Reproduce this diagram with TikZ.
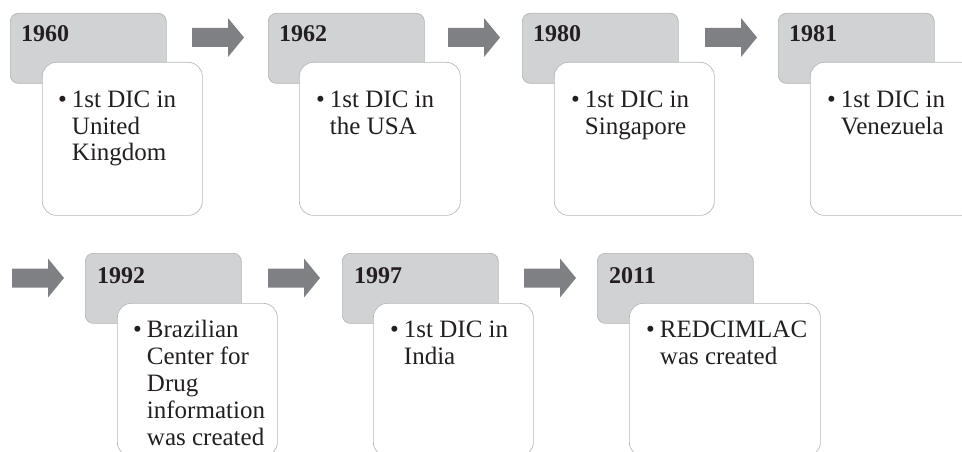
\documentclass[tikz,border=0pt]{standalone}
\usepackage{fontspec}
\setmainfont{Liberation Serif}
\definecolor{grayfill}{HTML}{D1D2D4}
\definecolor{grayedge}{HTML}{B4B5B7}
\definecolor{whiteedge}{HTML}{B8B9BB}
\definecolor{arrowfill}{HTML}{7F8083}
\definecolor{ink}{HTML}{231F20}
\tikzset{
  graybox/.style={draw=grayedge, fill=grayfill, rounded corners=8pt, line width=0.7pt,
    anchor=north west, inner sep=0pt, minimum width=156pt, minimum height=70pt},
  whitebox/.style={draw=whiteedge, fill=white, rounded corners=14pt, line width=0.7pt,
    anchor=north west, inner sep=0pt, minimum height=153pt},
  yeartext/.style={anchor=base west, inner sep=0pt, text=ink,
    font=\fontsize{24}{27}\selectfont\bfseries},
  itemtext/.style={anchor=base west, inner sep=0pt, text=ink,
    font=\fontsize{25}{27}\selectfont},
  blockarrow/.style={fill=arrowfill}
}
\newcommand{\bulletlines}[1]{\begin{tabular}[t]{@{}l@{\hspace{5pt}}l@{}}\textbullet & #1\end{tabular}}
\begin{document}
\begin{tikzpicture}[x=1pt,y=-1pt]
\useasboundingbox (0,0) rectangle (962,452);
\clip (0,0) rectangle (962,452);
% ---------- row 1 ----------
\node[graybox] (g1) at (10,13) {};
\node[yeartext] (y1) at (21,42) {1960};
\node[whitebox, minimum width=160pt] (w1) at (42,62) {};
\node[itemtext] (t1) at (58,107) {\bulletlines{1st DIC in\\ & United\\ & Kingdom}};

\node[graybox] (g2) at (268,13) {};
\node[yeartext] (y2) at (279,42) {1962};
\node[whitebox, minimum width=161pt] (w2) at (299,62) {};
\node[itemtext] (t2) at (316,107) {\bulletlines{1st DIC in\\ & the USA}};

\node[graybox] (g3) at (522,13) {};
\node[yeartext] (y3) at (533,42) {1980};
\node[whitebox, minimum width=160pt] (w3) at (554,62) {};
\node[itemtext] (t3) at (571,107) {\bulletlines{1st DIC in\\ & Singapore}};

\node[graybox] (g4) at (778,13) {};
\node[yeartext] (y4) at (789,42) {1981};
\node[whitebox, minimum width=165pt] (w4) at (810,62) {};
\node[itemtext] (t4) at (827,107) {\bulletlines{1st DIC in\\ & Venezuela}};

% ---------- row 2 ----------
\node[graybox] (g5) at (85,253) {};
\node[yeartext] (y5) at (97,283) {1992};
\node[whitebox, minimum width=160pt] (w5) at (117,303) {};
\node[itemtext] (t5) at (133,337) {\bulletlines{Brazilian\\ & Center for\\ & Drug\\ & information\\ & was created}};

\node[graybox] (g6) at (342,253) {};
\node[yeartext] (y6) at (354,283) {1997};
\node[whitebox, minimum width=160pt] (w6) at (373,303) {};
\node[itemtext] (t6) at (390,337) {\bulletlines{1st DIC in\\ & India}};

\node[graybox] (g7) at (597,253) {};
\node[yeartext] (y7) at (609,283) {2011};
\node[whitebox, minimum width=191pt] (w7) at (629,303) {};
\node[itemtext] (t7) at (646,337) {\bulletlines{REDCIMLAC\\ & was created}};

% ---------- block arrows ----------
\foreach \n/\ax/\ay in {a1/192/37.5, a2/448/37.5, a3/705/37.5, a4/12/278, a5/268/278, a6/524/278}{
  \coordinate (\n) at (\ax,\ay);
  \fill[blockarrow] (\n) ++(0,-9.5) -- ++(36,0) -- ++(0,-10) -- ++(16,19.5)
     -- ++(-16,19.5) -- ++(0,-10) -- ++(-36,0) -- cycle;
}
\end{tikzpicture}
\end{document}
